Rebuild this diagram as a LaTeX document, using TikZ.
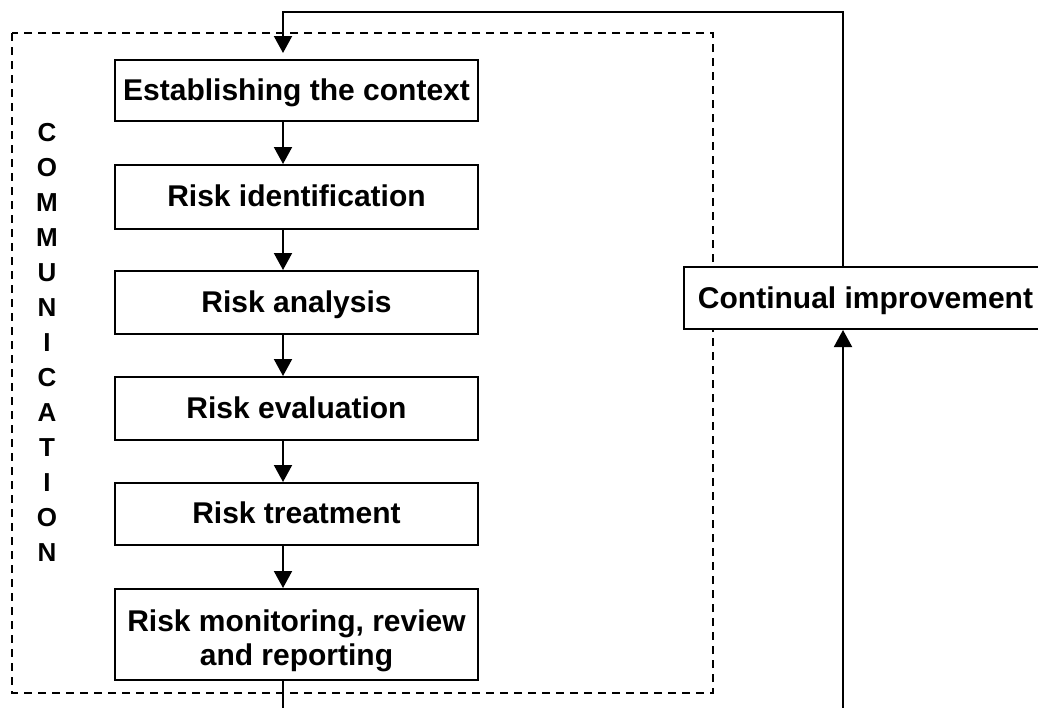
\documentclass[tikz,border=0pt]{standalone}
\usepackage{fontspec}
\setmainfont{Liberation Sans}
\usetikzlibrary{arrows.meta,calc}
\begin{document}
\begin{tikzpicture}[x=1pt,y=-1pt,
  stepbox/.style={draw,fill=white,line width=2pt,minimum width=363pt,inner sep=0pt,align=center,
    text height=19pt,text depth=0pt,
    font=\fontsize{30}{33.5}\selectfont\bfseries},
  conn/.style={line width=2pt},
  arr/.style={conn,-{Triangle[width=18pt,length=17pt]}},
  frame/.style={line width=1.8pt,dash pattern=on 8pt off 6pt},
  vlabel/.style={align=center,inner sep=0pt,font=\fontsize{26}{35}\selectfont\bfseries}]
\clip (0,0) rectangle (1038,707);
\draw[frame] (12,33) rectangle (713,693);
\node[vlabel] (comm) at (47,342) {C\\O\\M\\M\\U\\N\\I\\C\\A\\T\\I\\O\\N};
\node[stepbox,minimum height=61pt] (ctx) at (296.5,90.5) {Establishing the context};
\node[stepbox,minimum height=64pt] (ident) at (296.5,197) {Risk identification};
\node[stepbox,minimum height=63pt] (anal) at (296.5,302.5) {Risk analysis};
\node[stepbox,minimum height=63pt] (eval) at (296.5,408.5) {Risk evaluation};
\node[stepbox,minimum height=62pt] (treat) at (296.5,514) {Risk treatment};
\node[stepbox,minimum height=91pt,text height=61pt] (mon) at (296.5,634.5) {Risk monitoring, review\\and reporting};
\node[stepbox,minimum height=62pt,text height=20pt] (ci) at (865.5,298) {Continual improvement};
\coordinate (colx) at (283,0);
\coordinate (rightx) at (843,0);
\coordinate (topy) at (0,12);
\coordinate (boty) at (0,730);
\draw[arr] (ctx.south -| colx) -- (ident.north -| colx);
\draw[arr] (ident.south -| colx) -- (anal.north -| colx);
\draw[arr] (anal.south -| colx) -- (eval.north -| colx);
\draw[arr] (eval.south -| colx) -- (treat.north -| colx);
\draw[arr] (treat.south -| colx) -- (mon.north -| colx);
\draw[arr,shorten >=6pt] (ci.north -| rightx) -- (rightx |- topy) -- (colx |- topy) -- (ctx.north -| colx);
\draw[arr] (mon.south -| colx) -- (colx |- boty) -- (rightx |- boty) -- (ci.south -| rightx);
\end{tikzpicture}
\end{document}
